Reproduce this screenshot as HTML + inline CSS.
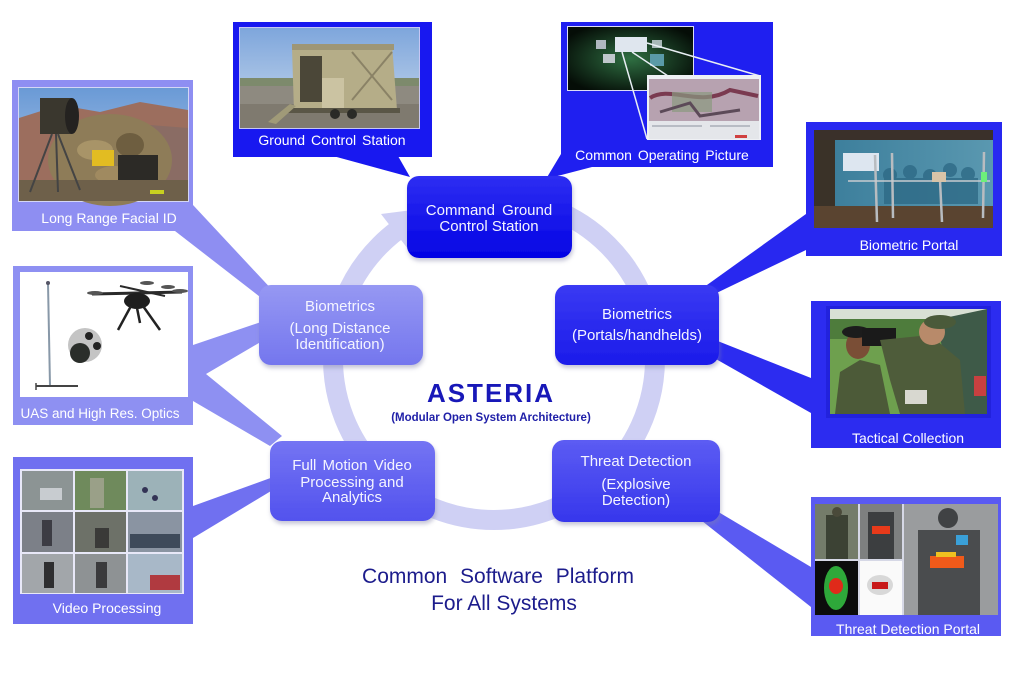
<!DOCTYPE html>
<html>
<head>
<meta charset="utf-8">
<style>
html,body{margin:0;padding:0;background:#fff;}
svg{display:block;}
text{font-family:"Liberation Sans",Arial,sans-serif;}
</style>
</head>
<body>
<svg width="1024" height="678" viewBox="0 0 1024 678" xmlns="http://www.w3.org/2000/svg">
<defs>
  <linearGradient id="gA" x1="0" y1="0" x2="0" y2="1"><stop offset="0" stop-color="#2e2ef2"/><stop offset="1" stop-color="#0303e4"/></linearGradient>
  <linearGradient id="gB" x1="0" y1="0" x2="0" y2="1"><stop offset="0" stop-color="#9698f3"/><stop offset="1" stop-color="#7476ee"/></linearGradient>
  <linearGradient id="gC" x1="0" y1="0" x2="0" y2="1"><stop offset="0" stop-color="#3a3af3"/><stop offset="1" stop-color="#1b1bea"/></linearGradient>
  <linearGradient id="gD" x1="0" y1="0" x2="0" y2="1"><stop offset="0" stop-color="#7474f3"/><stop offset="1" stop-color="#5252ee"/></linearGradient>
  <linearGradient id="gE" x1="0" y1="0" x2="0" y2="1"><stop offset="0" stop-color="#5c5cf3"/><stop offset="1" stop-color="#3636ec"/></linearGradient>
  <linearGradient id="sky1" x1="0" y1="0" x2="0" y2="1"><stop offset="0" stop-color="#7ea6dc"/><stop offset="1" stop-color="#cbdaec"/></linearGradient>
  <linearGradient id="sky2" x1="0" y1="0" x2="0" y2="1"><stop offset="0" stop-color="#6a9ad6"/><stop offset="1" stop-color="#b4cbe8"/></linearGradient>
  <linearGradient id="wall" x1="0" y1="0" x2="1" y2="0"><stop offset="0" stop-color="#3d7f9c"/><stop offset="1" stop-color="#5a98b0"/></linearGradient>
  <radialGradient id="glow" cx="0.5" cy="0.5" r="0.6"><stop offset="0" stop-color="#2f6f42"/><stop offset="1" stop-color="#050d07"/></radialGradient>
  <filter id="sh" x="-10%" y="-10%" width="120%" height="130%">
    <feDropShadow dx="1" dy="3" stdDeviation="2" flood-color="#8080a8" flood-opacity="0.45"/>
  </filter>
</defs>

<!-- ring -->
<circle cx="494" cy="359" r="161" fill="none" stroke="#cfd0f4" stroke-width="20"/>
<polygon points="381,214 408,249 444,206" fill="#cfd0f4"/>

<!-- wedges -->
<polygon points="333,156 398,156 410,177" fill="#1818f0"/>
<polygon points="561,154 592,167 546,179" fill="#1f1ff0"/>
<polygon points="175,231 193,205 276,294 264,300" fill="#8e8ef2"/>
<polygon points="193,345 264,321 264,340 206,374 282,436 270,446 193,401" fill="#8e90f2"/>
<polygon points="193,506 276,476 276,488 193,538" fill="#7070f0"/>
<polygon points="806,214 806,250 702,300 700,290" fill="#2828f0"/>
<polygon points="700,334 811,378 811,413 700,350" fill="#2c2cf0"/>
<polygon points="678,488 811,567 811,607 678,502" fill="#5a5af2"/>

<!-- Panel: Ground Control Station -->
<rect x="233" y="22" width="199" height="135" fill="#1818f0"/>
<rect x="239" y="27" width="181" height="102" fill="#c6c6f4"/>
<rect x="240" y="28" width="179" height="100" fill="url(#sky1)"/>
<rect x="240" y="78" width="179" height="8" fill="#7d8a6c"/>
<rect x="240" y="86" width="179" height="42" fill="#8e8a80"/>
<rect x="240" y="104" width="179" height="24" fill="#7f7a6f"/>
<polygon points="292,48 392,44 397,110 294,112" fill="#b5ad88"/>
<rect x="292" y="44" width="102" height="6" fill="#9e9676"/>
<rect x="300" y="56" width="22" height="46" fill="#4b4738"/>
<rect x="322" y="78" width="22" height="30" fill="#cbc3a2"/>
<line x1="352" y1="52" x2="392" y2="100" stroke="#8a8266" stroke-width="2"/>
<line x1="392" y1="52" x2="352" y2="100" stroke="#8a8266" stroke-width="2"/>
<rect x="288" y="108" width="112" height="5" fill="#5a5646"/>
<circle cx="335" cy="114" r="5" fill="#2a2a26"/>
<circle cx="352" cy="114" r="5" fill="#2a2a26"/>
<polygon points="268,122 290,104 296,106 276,124" fill="#a09a78"/>
<text x="332" y="145" font-size="14" fill="#fff" text-anchor="middle" word-spacing="2">Ground Control Station</text>

<!-- Panel: Common Operating Picture -->
<rect x="561" y="22" width="212" height="145" fill="#1f1ff0"/>
<rect x="567" y="26" width="127" height="65" fill="#dcdcf6"/>
<rect x="568" y="27" width="125" height="63" fill="url(#glow)"/>
<rect x="615" y="37" width="32" height="15" fill="#dfe6ee"/>
<rect x="596" y="40" width="10" height="9" fill="#b0b8c0"/>
<rect x="603" y="54" width="12" height="9" fill="#c0c8cc"/>
<rect x="652" y="40" width="10" height="8" fill="#a8b8b8"/>
<rect x="650" y="54" width="14" height="12" fill="#5a9aa8"/>
<line x1="647" y1="43" x2="760" y2="76" stroke="#e8eef4" stroke-width="1.5"/>
<line x1="622" y1="52" x2="647" y2="139" stroke="#e8eef4" stroke-width="1.5"/>
<line x1="632" y1="52" x2="668" y2="76" stroke="#e8eef4" stroke-width="1.5"/>
<rect x="647" y="75" width="114" height="65" fill="#eef0f4"/>
<rect x="649" y="79" width="110" height="42" fill="#b7a2b0"/>
<path d="M650,98 C670,85 700,108 730,90 L758,96" stroke="#7a3a50" stroke-width="4" fill="none"/>
<rect x="672" y="92" width="40" height="20" fill="#8a9a80" opacity="0.7"/>
<path d="M660,112 L690,103 L700,116 L740,110" stroke="#5c4a58" stroke-width="3" fill="none"/>
<rect x="649" y="121" width="110" height="18" fill="#e4e6ea"/>
<rect x="652" y="125" width="50" height="2" fill="#b8bcc4"/>
<rect x="710" y="125" width="40" height="2" fill="#b8bcc4"/>
<rect x="735" y="135" width="12" height="3" fill="#d04040"/>
<text x="662" y="160" font-size="14" fill="#fff" text-anchor="middle" word-spacing="2">Common Operating Picture</text>

<!-- Panel: Long Range Facial ID -->
<rect x="12" y="80" width="181" height="151" fill="#8e8ef2"/>
<rect x="18" y="87" width="171" height="115" fill="#d4d6f6"/>
<rect x="19" y="88" width="169" height="113" fill="url(#sky2)"/>
<polygon points="19,118 60,105 100,112 140,102 188,110 188,201 19,201" fill="#9c6e5e"/>
<polygon points="120,140 150,125 188,128 188,201 120,201" fill="#8a6c64"/>
<ellipse cx="110" cy="160" rx="62" ry="46" fill="#8e7c58"/>
<ellipse cx="95" cy="150" rx="18" ry="10" fill="#a89468"/>
<ellipse cx="130" cy="145" rx="14" ry="12" fill="#6e5e40"/>
<ellipse cx="115" cy="175" rx="20" ry="9" fill="#a08a60"/>
<rect x="19" y="180" width="169" height="21" fill="#6e604a"/>
<rect x="92" y="150" width="22" height="16" fill="#e2bc22"/>
<rect x="118" y="155" width="40" height="25" fill="#2c2a26"/>
<rect x="40" y="98" width="32" height="36" fill="#3a372e"/>
<ellipse cx="72" cy="116" rx="7" ry="18" fill="#242220"/>
<line x1="52" y1="134" x2="30" y2="192" stroke="#444" stroke-width="2"/>
<line x1="56" y1="134" x2="58" y2="192" stroke="#444" stroke-width="2"/>
<line x1="58" y1="134" x2="80" y2="190" stroke="#444" stroke-width="2"/>
<rect x="150" y="190" width="14" height="4" fill="#c8d020"/>
<text x="109" y="223" font-size="14" fill="#fff" text-anchor="middle">Long Range Facial ID</text>

<!-- Panel: UAS -->
<rect x="13" y="266" width="180" height="159" fill="#8e90f2"/>
<rect x="20" y="272" width="168" height="125" fill="#fff"/>
<line x1="48" y1="283" x2="50" y2="386" stroke="#8898a8" stroke-width="2"/>
<circle cx="48" cy="283" r="2" fill="#556"/>
<line x1="36" y1="386" x2="78" y2="386" stroke="#444" stroke-width="2"/>
<line x1="36" y1="383" x2="36" y2="390" stroke="#444" stroke-width="1.5"/>
<line x1="92" y1="294" x2="182" y2="292" stroke="#2a2a2a" stroke-width="3"/>
<line x1="120" y1="286" x2="165" y2="296" stroke="#2a2a2a" stroke-width="2"/>
<ellipse cx="95" cy="293" rx="8" ry="2" fill="#555"/>
<ellipse cx="180" cy="291" rx="8" ry="2" fill="#555"/>
<ellipse cx="147" cy="283" rx="7" ry="2" fill="#555"/>
<ellipse cx="168" cy="287" rx="7" ry="2" fill="#555"/>
<ellipse cx="137" cy="301" rx="13" ry="8" fill="#1e1e1e"/>
<line x1="131" y1="306" x2="118" y2="330" stroke="#222" stroke-width="2.5"/>
<line x1="143" y1="306" x2="160" y2="330" stroke="#222" stroke-width="2.5"/>
<line x1="137" y1="308" x2="140" y2="323" stroke="#222" stroke-width="2.5"/>
<circle cx="85" cy="345" r="17" fill="#c4c4c4"/>
<circle cx="80" cy="353" r="10" fill="#2a2e2a"/>
<circle cx="89" cy="336" r="4" fill="#222"/>
<circle cx="97" cy="346" r="4" fill="#222"/>
<text x="100" y="418" font-size="13.5" fill="#fff" text-anchor="middle">UAS and High Res. Optics</text>

<!-- Panel: Video Processing -->
<rect x="13" y="457" width="180" height="167" fill="#7070f0"/>
<rect x="20" y="469" width="164" height="125" fill="#e8e8f8"/>
<rect x="22" y="471" width="51" height="39" fill="#8c9494"/>
<rect x="40" y="488" width="22" height="12" fill="#c8ccd0"/>
<rect x="75" y="471" width="51" height="39" fill="#6f8a5c"/>
<rect x="90" y="478" width="14" height="30" fill="#9aa088"/>
<rect x="128" y="471" width="54" height="39" fill="#9cb2b8"/>
<circle cx="145" cy="490" r="3" fill="#335"/><circle cx="155" cy="498" r="3" fill="#335"/>
<rect x="22" y="512" width="51" height="40" fill="#7c8088"/>
<rect x="42" y="520" width="10" height="26" fill="#3c3c44"/>
<rect x="75" y="512" width="51" height="40" fill="#6d7168"/>
<rect x="95" y="528" width="14" height="20" fill="#3a3a38"/>
<rect x="128" y="512" width="54" height="40" fill="#8a94a2"/>
<rect x="130" y="534" width="50" height="14" fill="#3e4a5a"/>
<rect x="22" y="554" width="51" height="39" fill="#a2a6aa"/>
<rect x="44" y="562" width="10" height="26" fill="#2e2e30"/>
<rect x="75" y="554" width="51" height="39" fill="#8e9294"/>
<rect x="96" y="562" width="11" height="26" fill="#3a3a3c"/>
<rect x="128" y="554" width="54" height="39" fill="#a8b8c8"/>
<rect x="150" y="575" width="30" height="15" fill="#b03a40"/>
<text x="107" y="613" font-size="14" fill="#fff" text-anchor="middle">Video Processing</text>

<!-- Panel: Biometric Portal -->
<rect x="806" y="122" width="196" height="134" fill="#2828f0"/>
<rect x="814" y="130" width="179" height="98" fill="#2a2420"/>
<rect x="814" y="130" width="179" height="10" fill="#3a302a"/>
<rect x="835" y="140" width="158" height="66" fill="url(#wall)"/>
<g fill="#2e6a86" opacity="0.8">
<circle cx="890" cy="175" r="7"/><circle cx="910" cy="172" r="7"/><circle cx="930" cy="176" r="7"/><circle cx="950" cy="170" r="7"/><circle cx="968" cy="174" r="7"/>
<rect x="884" y="178" width="94" height="26"/>
</g>
<rect x="814" y="140" width="21" height="66" fill="#3a3228"/>
<rect x="814" y="206" width="179" height="22" fill="#5a4430"/>
<rect x="843" y="153" width="36" height="18" fill="#dde6f0"/>
<line x1="875" y1="155" x2="877" y2="222" stroke="#b8bcc0" stroke-width="2.5"/>
<line x1="892" y1="153" x2="893" y2="218" stroke="#b8bcc0" stroke-width="2.5"/>
<line x1="940" y1="180" x2="942" y2="222" stroke="#b8bcc0" stroke-width="2.5"/>
<line x1="984" y1="152" x2="983" y2="218" stroke="#b8bcc0" stroke-width="2.5"/>
<line x1="848" y1="181" x2="990" y2="181" stroke="#c8ccd0" stroke-width="1.5"/>
<rect x="932" y="172" width="14" height="10" fill="#d8c4a8"/>
<rect x="981" y="172" width="6" height="10" fill="#6cf07a"/>
<text x="909" y="250" font-size="14" fill="#fff" text-anchor="middle">Biometric Portal</text>

<!-- Panel: Tactical Collection -->
<rect x="811" y="301" width="190" height="147" fill="#2c2cf0"/>
<rect x="826" y="306" width="165" height="112" fill="#1c1cd0" opacity="0.6"/>
<rect x="830" y="309" width="157" height="105" fill="#6ea04e"/>
<rect x="830" y="309" width="157" height="12" fill="#d8e0d4"/>
<rect x="830" y="319" width="157" height="20" fill="#4e7c3c"/>
<polygon points="935,320 987,309 987,414 960,414" fill="#3e5a48"/>
<polygon points="835,414 840,372 860,360 880,365 890,414" fill="#4c5a38"/>
<ellipse cx="858" cy="345" rx="12" ry="14" fill="#7a4e36"/>
<ellipse cx="856" cy="332" rx="14" ry="6" fill="#1c1c1c"/>
<rect x="862" y="328" width="34" height="18" fill="#1a1a1a"/>
<polygon points="880,340 930,335 960,360 965,414 900,414 890,380" fill="#4e5c3a"/>
<ellipse cx="932" cy="332" rx="13" ry="13" fill="#b88a6a"/>
<ellipse cx="940" cy="322" rx="16" ry="7" fill="#4a5a3a"/>
<rect x="905" y="390" width="22" height="14" fill="#d8d8d0"/>
<rect x="974" y="376" width="12" height="20" fill="#c84040"/>
<text x="908" y="443" font-size="14" fill="#fff" text-anchor="middle">Tactical Collection</text>

<!-- Panel: Threat Detection Portal -->
<rect x="811" y="497" width="190" height="139" fill="#5a5af2"/>
<rect x="815" y="504" width="183" height="111" fill="#d6d8e6"/>
<rect x="815" y="504" width="43" height="55" fill="#747c6a"/>
<rect x="826" y="515" width="22" height="44" fill="#3c4234"/>
<circle cx="837" cy="512" r="5" fill="#4a4a3a"/>
<rect x="860" y="504" width="42" height="55" fill="#7e8080"/>
<rect x="868" y="512" width="26" height="47" fill="#3c3e40"/>
<rect x="872" y="526" width="18" height="8" fill="#e83a1a"/>
<rect x="904" y="504" width="94" height="111" fill="#9a9c9e"/>
<rect x="918" y="530" width="62" height="85" fill="#4a4c4e"/>
<circle cx="948" cy="518" r="10" fill="#404244"/>
<rect x="930" y="556" width="34" height="12" fill="#f05a1a"/>
<rect x="936" y="552" width="20" height="5" fill="#f0c020"/>
<rect x="956" y="535" width="12" height="10" fill="#3aa0d8"/>
<rect x="815" y="561" width="43" height="54" fill="#0c0c0c"/>
<ellipse cx="836" cy="588" rx="12" ry="22" fill="#2ea83a"/>
<ellipse cx="836" cy="586" rx="7" ry="8" fill="#e02a1a"/>
<rect x="860" y="561" width="42" height="54" fill="#fafafa"/>
<ellipse cx="880" cy="585" rx="13" ry="10" fill="#d8d8d8"/>
<rect x="872" y="582" width="16" height="7" fill="#c81818"/>
<text x="908" y="634" font-size="14" fill="#fff" text-anchor="middle">Threat Detection Portal</text>

<!-- Nodes -->
<g filter="url(#sh)">
<rect x="407" y="176" width="165" height="82" rx="12" fill="url(#gA)"/>
<rect x="259" y="285" width="164" height="80" rx="12" fill="url(#gB)"/>
<rect x="555" y="285" width="164" height="80" rx="12" fill="url(#gC)"/>
<rect x="270" y="441" width="165" height="80" rx="12" fill="url(#gD)"/>
<rect x="552" y="440" width="168" height="82" rx="12" fill="url(#gE)"/>
</g>
<g font-size="15" fill="#f4f4ff" text-anchor="middle">
<text x="489" y="215" word-spacing="3">Command Ground</text>
<text x="489" y="231">Control Station</text>
<text x="340" y="311">Biometrics</text>
<text x="340" y="333">(Long Distance</text>
<text x="340" y="349">Identification)</text>
<text x="637" y="319">Biometrics</text>
<text x="637" y="340">(Portals/handhelds)</text>
<text x="352" y="470" word-spacing="2">Full Motion Video</text>
<text x="352" y="487">Processing and</text>
<text x="352" y="502">Analytics</text>
<text x="636" y="466">Threat Detection</text>
<text x="636" y="489">(Explosive</text>
<text x="636" y="505">Detection)</text>
</g>

<!-- Center text -->
<text x="491" y="402" font-size="26" font-weight="bold" fill="#1818b8" text-anchor="middle" letter-spacing="2">ASTERIA</text>
<text x="491" y="421" font-size="11.5" font-weight="bold" fill="#2020a8" text-anchor="middle">(Modular Open System Architecture)</text>
<text x="498" y="583" font-size="21" fill="#1c1c8c" text-anchor="middle" word-spacing="7">Common Software Platform</text>
<text x="504" y="610" font-size="21" fill="#1c1c8c" text-anchor="middle">For All Systems</text>
</svg>
</body>
</html>
